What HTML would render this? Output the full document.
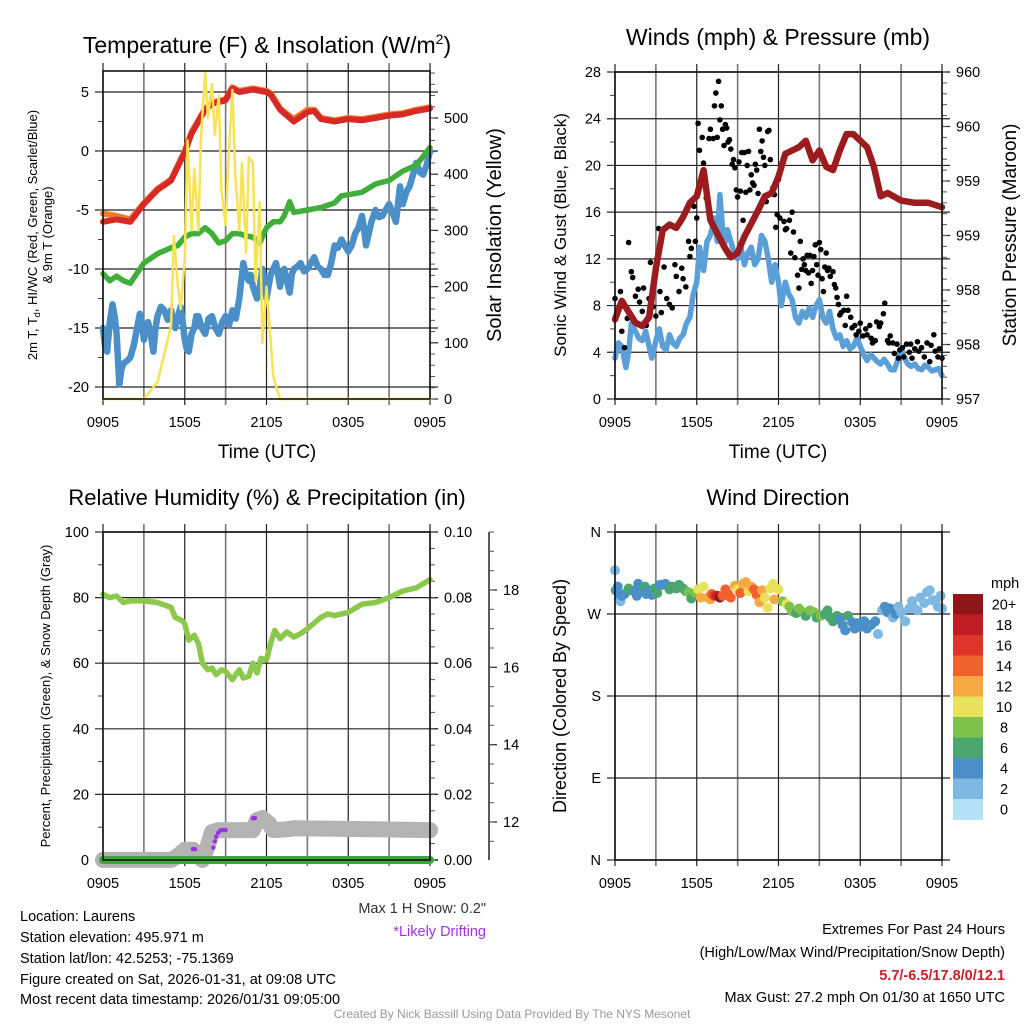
<!DOCTYPE html>
<html><head><meta charset="utf-8"><style>
body{margin:0;background:#fff;width:1024px;height:1024px;overflow:hidden;font-family:"Liberation Sans",sans-serif}
svg text{font-family:"Liberation Sans",sans-serif}
</style></head><body>
<svg id="s" width="1024" height="1024" xmlns="http://www.w3.org/2000/svg">
<rect width="1024" height="1024" fill="#fff"/>
<text x="267" y="53" font-size="23" text-anchor="middle">Temperature (F) &amp; Insolation (W/m<tspan font-size="14" dy="-9">2</tspan><tspan dy="9">)</tspan></text>
<text x="778" y="45" font-size="23" text-anchor="middle">Winds (mph) &amp; Pressure (mb)</text>
<text x="267" y="505" font-size="22" text-anchor="middle">Relative Humidity (%) &amp; Precipitation (in)</text>
<text x="778" y="505" font-size="22" text-anchor="middle">Wind Direction</text>
<text x="267" y="458" font-size="19" text-anchor="middle">Time (UTC)</text>
<text x="778" y="458" font-size="19" text-anchor="middle">Time (UTC)</text>
<text transform="translate(37,235) rotate(-90)" font-size="13" text-anchor="middle">2m T, T<tspan font-size="9" dy="3">d</tspan><tspan dy="-3">, HI/WC (Red, Green, Scarlet/Blue)</tspan></text>
<text transform="translate(52,235) rotate(-90)" font-size="13" text-anchor="middle">&amp; 9m T (Orange)</text>
<text transform="translate(501,235) rotate(-90)" font-size="20" text-anchor="middle">Solar Insolation (Yellow)</text>
<text transform="translate(566,235) rotate(-90)" font-size="17" text-anchor="middle">Sonic Wind &amp; Gust (Blue, Black)</text>
<text transform="translate(1016,235) rotate(-90)" font-size="19" text-anchor="middle">Station Pressure (Maroon)</text>
<text transform="translate(50,696) rotate(-90)" font-size="13" text-anchor="middle">Percent, Precipitation (Green), &amp; Snow Depth (Gray)</text>
<text transform="translate(566,696) rotate(-90)" font-size="18" text-anchor="middle">Direction (Colored By Speed)</text>
<g font-size="14.5">
<text x="20" y="921">Location: Laurens</text>
<text x="20" y="942">Station elevation: 495.971 m</text>
<text x="20" y="963">Station lat/lon: 42.5253; -75.1369</text>
<text x="20" y="984">Figure created on Sat, 2026-01-31, at 09:08 UTC</text>
<text x="20" y="1004">Most recent data timestamp: 2026/01/31 09:05:00</text>
<text x="486" y="913" text-anchor="end" fill="#333">Max 1 H Snow: 0.2"</text>
<text x="486" y="936" text-anchor="end" fill="#a030e8">*Likely Drifting</text>
<text x="1005" y="934" text-anchor="end">Extremes For Past 24 Hours</text>
<text x="1005" y="957" text-anchor="end">(High/Low/Max Wind/Precipitation/Snow Depth)</text>
<text x="1005" y="980" text-anchor="end" fill="#c8202a" font-weight="bold">5.7/-6.5/17.8/0/12.1</text>
<text x="1005" y="1002" text-anchor="end">Max Gust: 27.2 mph On 01/30 at 1650 UTC</text>
</g>
<text x="512" y="1018" font-size="12" text-anchor="middle" fill="#999">Created By Nick Bassill Using Data Provided By The NYS Mesonet</text>
<g id="plots"></g>
</svg>
<script>
// ---- data ----
const xTickLabels = ["0905","1505","2105","0305","0905"];
const redH = [0,1,2,3,4,5,6,6.5,7,7.5,8,9,9.5,10,11,12,12.3,13,14,15,15.5,16,17,18,19,20,21,22,23,24];
const redV = [-6,-5.8,-6,-4.5,-3.3,-2.5,-0.1,1.5,2.5,3.5,4,4.3,5.3,5,5.2,5,4.8,3.5,2.5,3.3,3.4,2.7,2.5,2.7,2.6,2.8,3,3.1,3.4,3.6];
const orangeV = [-5.3,-5.5,-5.8,-4.4,-3.2,-2.4,0,1.6,2.6,3.6,4.1,4.4,5.4,5.1,5.3,5.1,4.9,3.6,2.7,3.5,3.5,2.8,2.6,2.8,2.7,2.9,3.1,3.2,3.5,3.7];
const greenH = [0,0.5,1,1.5,2,3,4,5,5.5,6,6.5,7,7.5,8,8.5,9,9.5,10,10.5,11,11.5,12,12.5,13,13.3,13.7,14,15,16,17,17.5,18,19,20,21,22,23,24];
const greenV = [-10.4,-11,-10.6,-11,-11.2,-9.5,-8.7,-8.2,-8,-7.3,-7,-7,-6.5,-7,-7.8,-7.6,-7,-7,-7.2,-7.3,-7.8,-6.5,-6,-6,-5.5,-4.3,-5.2,-5,-4.8,-4.4,-3.8,-3.7,-3.5,-2.8,-2.5,-1.7,-1.2,0.3];
const blueH = [0,0.15,0.3,0.5,0.7,0.85,1,1.2,1.35,1.5,1.75,2,2.25,2.5,2.7,2.85,3,3.15,3.3,3.5,3.7,3.85,4,4.25,4.5,4.75,5,5.15,5.3,5.5,5.7,5.85,6,6.15,6.3,6.5,6.7,6.85,7,7.25,7.5,7.75,8,8.25,8.5,8.75,9,9.25,9.5,9.75,10,10.15,10.3,10.5,10.7,10.85,11,11.15,11.3,11.5,11.7,11.85,12,12.15,12.3,12.5,12.7,12.85,13,13.15,13.3,13.5,13.7,13.85,14,14.25,14.5,14.75,15,15.25,15.5,15.75,16,16.25,16.5,16.75,17,17.25,17.5,17.75,18,18.25,18.5,18.75,19,19.15,19.3,19.5,19.7,19.85,20,20.25,20.5,20.75,21,21.25,21.5,21.65,21.8,22,22.25,22.5,22.75,23,23.25,23.5,23.75,24];
const blueV = [-15,-16.5,-17,-14.5,-13,-14,-15.5,-19.8,-18.5,-18,-17.8,-17.5,-16.5,-15,-13.8,-14.5,-16,-15,-14.5,-15.5,-17,-15,-14,-13.2,-13.5,-14.3,-13.5,-14.5,-15,-14,-13.2,-14.5,-16,-16.8,-17,-15.5,-15,-14,-14,-15,-15.5,-14.2,-14,-15,-15.5,-14.5,-14,-14.8,-13.5,-14.2,-12.5,-11,-9.5,-10.5,-11,-10.5,-11.5,-12,-12.5,-11.5,-10,-11,-12.5,-11.5,-10.5,-10,-9.5,-10.5,-11.5,-10.5,-10,-11,-12,-10.5,-10,-9.8,-9.5,-10.2,-10,-9.5,-9,-9.8,-10,-10.5,-10.5,-9.5,-8,-8.2,-7.5,-8,-8.5,-8,-7,-6.5,-5.5,-6.5,-8,-7,-6,-5.5,-5,-5.6,-5.5,-5,-4.5,-5.2,-6,-4.5,-3,-4.5,-3.5,-3,-2,-1,-1.8,-2,-1.2,0];
const solarH = [0,3,4,5,5.2,5.5,5.7,6,6.2,6.5,6.7,7,7.2,7.5,7.7,8,8.2,8.5,8.7,9,9.2,9.5,9.7,10,10.2,10.5,10.7,11,11.2,11.5,11.7,12,12.5,13,24];
const solarV = [0,0,30,130,290,200,160,250,460,300,410,300,470,580,500,560,470,540,370,310,420,550,400,300,420,260,430,420,210,350,100,200,40,0,0];
const tempTicks = [-20,-15,-10,-5,0,5];
const solarTicks = [0,100,200,300,400,500];

const windH = [0,0.25,0.5,0.8,1,1.2,1.5,1.75,2,2.25,2.5,2.7,3,3.25,3.5,3.75,4,4.25,4.5,4.75,5,5.25,5.5,5.75,6,6.2,6.5,6.75,7,7.3,7.5,7.7,8,8.25,8.5,8.75,9,9.25,9.5,9.75,10,10.25,10.5,10.75,11,11.25,11.5,11.75,12,12.2,12.5,12.75,13,13.25,13.5,13.75,14,14.25,14.5,14.75,15,15.25,15.5,15.75,16,16.25,16.5,16.75,17,17.25,17.5,17.75,18,18.25,18.5,18.75,19,19.25,19.5,19.75,20,20.25,20.5,20.75,21,21.25,21.5,21.75,22,22.25,22.5,22.75,23,23.25,23.5,23.75,24];
const windV = [3.5,4.8,4.5,2.7,4,6.5,5.8,5.2,5,5.8,4.5,3.5,5,6,4.5,4.2,5.5,4.8,4.5,5.2,5.5,6.5,7,9,10,13,11,13.5,14,15.5,13.5,17.5,13,14.5,13.5,12.5,12,13,11.5,12.5,13,11.5,12,14,13.5,12,10,11.5,10,8,10,9,8.5,7,6.5,7.5,7,7.8,7,8,8.5,7,6.5,7.5,6,5.2,5.5,4.5,5,4.3,4.5,5.2,4.5,3.8,3.3,3.8,3.5,3.2,3,3.4,3,2.5,2.5,3.3,4.3,3.5,3,2.8,3,2.6,2.5,2.9,2.7,2.4,2.5,2.6,2];
const presH = [0,0.5,1,1.5,2,2.5,3,3.5,4,4.5,5,5.5,6,6.5,7,7.5,8,8.5,9,9.5,10,10.5,11,11.5,12,12.5,13,13.5,14,14.5,15,15.5,16,16.5,17,17.5,18,18.5,19,19.5,20,21,22,23,24];
const presV = [957.73,957.9,957.8,957.7,957.67,957.75,958.2,958.55,958.6,958.57,958.67,958.8,958.86,959.1,958.64,958.52,958.4,958.3,958.34,958.49,958.61,958.73,958.86,958.89,959.04,959.25,959.28,959.31,959.37,959.19,959.28,959.13,959.1,959.28,959.43,959.43,959.37,959.31,959.13,958.86,958.89,958.82,958.8,958.8,958.76];
const gustH = [0,0.2,0.4,0.5,0.7,0.9,1,1.2,1.3,1.5,1.7,1.8,2,2.1,2.3,2.5,2.6,2.8,3,3.1,3.2,3.3,3.4,3.6,3.8,4,4.2,4.4,4.5,4.7,4.9,5,5.2,5.4,5.5,5.6,5.8,5.9,6,6.1,6.2,6.4,6.5,6.6,6.7,6.9,7,7.2,7.3,7.4,7.5,7.6,7.7,7.8,7.9,8,8.1,8.2,8.3,8.4,8.5,8.6,8.7,8.8,8.9,9,9.1,9.2,9.3,9.4,9.5,9.6,9.7,9.8,9.9,10,10.1,10.2,10.3,10.4,10.5,10.6,10.7,10.8,10.9,11,11.1,11.2,11.3,11.4,11.6,11.7,11.8,11.9,12,12.1,12.3,12.4,12.5,12.6,12.8,12.9,13,13.1,13.2,13.4,13.5,13.6,13.7,13.8,13.9,14,14.1,14.2,14.3,14.4,14.5,14.6,14.7,14.8,14.9,15,15.1,15.2,15.3,15.4,15.5,15.6,15.7,15.8,16,16.1,16.2,16.3,16.4,16.5,16.6,16.8,16.9,17,17.1,17.3,17.4,17.6,17.7,17.9,18,18.2,18.4,18.5,18.7,18.8,18.9,19.1,19.2,19.4,19.5,19.7,19.8,20,20.1,20.2,20.4,20.5,20.7,20.8,20.9,21.1,21.2,21.4,21.6,21.7,21.8,22,22.2,22.3,22.5,22.7,22.9,23.1,23.2,23.4,23.5,23.7,23.8,24];
const gustV = [8.6,7.5,9.2,5.8,4.4,6.9,13.4,10.9,10.4,8.8,9.4,8.3,7.5,9.5,6.3,8.6,11.7,7.9,7.1,11.7,14.6,9.2,7.4,11.3,8.6,8.1,7.8,11.5,10.5,9.2,11.2,10.3,9.6,13.5,12.2,12.9,16.5,13.5,15.5,23.6,21.3,22.4,20.2,18.6,17.2,22.3,23.1,22.3,25.1,26.2,22.4,27.2,23.9,25.1,23.1,21.7,23.5,23.2,22,22.2,21.4,20.1,20.5,19.8,17.9,17.3,20.3,17.8,21.1,15.3,21.1,17.7,20,21.2,17.9,19.2,18.5,18.3,20.1,19.6,17.6,23.1,21.2,22.1,20.7,20,16.9,22.9,23,20.5,18.1,17.5,14.7,15.8,18.8,15.5,20.2,15.2,14.5,14.6,15.3,12.5,16,14.3,12.1,10.6,9.5,13.5,11.1,12,11.5,11,12.3,10.8,12.3,9.9,11,12.2,13.2,11.5,10.6,13.4,12.8,10.3,9.2,11.3,12.5,11,11.2,10.5,10.9,9.8,9.5,8.7,8.1,7.2,7.4,7.6,6.3,8.8,7.6,7,6.1,6.3,5.5,5.8,6.5,5.4,6,5.5,6.3,5.2,4.8,5,6.6,6.2,6.5,7.3,8.2,5,4.8,5.4,4.8,3.9,4.7,3.5,4.2,4.4,3.6,4.7,4,4.7,3.5,4.3,4.9,4.1,4.4,3.6,4.8,3.2,4.6,5.5,4.1,3.6,4.3,3.5];
const windTicks = [0,4,8,12,16,20,24,28];
const presTicks = [957,957.5,958,958.5,959,959.5,960];
const presTickLabels = ["957","958","958","959","959","960","960"];

const rhH = [0,0.5,1,1.5,2,3,4,5,5.3,5.8,6,6.3,6.7,7,7.3,7.7,8,8.3,8.7,9,9.5,10,10.3,10.7,11,11.3,11.6,12,12.3,12.6,13,13.5,14,14.5,15,16,16.5,17,18,19,20,21,22,23,24];
const rhV = [81,80,80.5,78.5,79,79,78.5,77,74,73,72,67,68.5,66,60,58,58.5,56.5,58,57.5,55,58,55.5,56,60,57,61.5,61,66,70,67.5,69.5,68,69,70.5,74,75,74.5,75.5,78,78.5,80,82,83,85.5];
const precipH = [0,24];
const precipV = [0,0];
const snowH = [0,5,5.5,6.0,6.6,6.8,7.3,7.7,8.0,8.5,11,11.3,11.7,12.2,12.5,13.5,14,24];
const snowV = [11.02,11.02,11.12,11.28,11.28,11.2,11.02,11.4,11.74,11.79,11.79,12.05,12.1,11.95,11.79,11.81,11.84,11.79];
const driftH = [6.6,6.75,8.1,8.2,8.3,8.45,8.6,8.8,9.0,11.0,11.15];
const driftV = [11.3,11.3,11.34,11.5,11.62,11.72,11.78,11.79,11.79,12.1,12.1];
const rhTicks = [0,20,40,60,80,100];
const precTicks = [0,0.02,0.04,0.06,0.08,0.1];
const precTickLabels = ["0.00","0.02","0.04","0.06","0.08","0.10"];
const snowTicks = [12,14,16,18];

const dirH = [0,0.05,0.2,0.3,0.4,0.5,0.7,1,1.2,1.5,1.6,1.7,2,2.2,2.3,2.5,2.7,2.9,3.1,3.3,3.5,3.7,4,4.2,4.5,4.7,5,5.2,5.4,5.6,5.9,6.1,6.3,6.5,6.8,7,7.1,7.3,7.5,7.7,7.9,8.1,8.3,8.5,8.8,9,9.2,9.4,9.6,9.8,10,10.2,10.4,10.6,10.8,11,11.2,11.4,11.6,11.7,12,12.3,12.6,12.8,13,13.3,13.5,13.8,14,14.3,14.6,14.8,15.1,15.4,15.6,15.8,16,16.3,16.5,16.7,16.9,17.1,17.4,17.6,17.8,18,18.3,18.5,18.8,19.1,19.3,19.6,19.8,20,20.2,20.4,20.6,20.8,21,21.3,21.6,21.8,22,22.2,22.4,22.7,22.9,23.1,23.3,23.5,23.7,23.9,24];
const dirV = [318,296,300,288,284,290,292,298,296,295,290,303,297,300,292,296,291,298,293,302,302,303,297,300,298,302,298,295,294,287,293,297,288,300,288,286,292,290,290,288,290,297,292,288,301,297,293,303,305,295,300,297,291,283,296,288,277,298,303,286,297,284,281,278,273,271,276,272,268,274,272,266,268,270,274,266,262,268,264,258,252,268,261,254,260,256,262,254,258,262,248,274,278,272,276,266,270,278,272,262,276,284,276,274,288,282,294,296,285,285,278,290,276];
const dirSpd = [3,4,4,4,3,4,4,6,6,4,4,4,4,6,4,4,4,6,6,4,4,4,6,6,6,6,6,6,8,6,8,10,12,10,12,12,14,16,18,20,14,14,14,14,12,10,14,12,12,10,12,14,14,12,12,10,10,10,10,12,10,8,10,8,8,6,8,8,6,8,8,6,8,6,6,6,6,6,4,4,4,6,4,4,4,4,4,4,4,4,2,2,4,4,4,2,4,2,2,2,2,2,2,2,2,2,2,2,2,2,2,2,2];
const dirTicks = [0,90,180,270,360];
const dirTickLabels = ["N","E","S","W","N"];
const cbLabels = ["0","2","4","6","8","10","12","14","16","18","20+"];
const cbColors = ["#b3e1f7","#7fb9e3","#4a8fc7","#4aa56e","#7dc24a","#e8e15a","#f6a843","#f0622c","#df3528","#c01e25","#8f1719"];

// ---- drawing ----
const NS="http://www.w3.org/2000/svg";
const root=document.getElementById('plots');
function mk(tag,attrs,parent){const e=document.createElementNS(NS,tag);for(const k in attrs)e.setAttribute(k,attrs[k]);(parent||root).appendChild(e);return e;}
function lin(d0,d1,r0,r1){return v=>r0+(v-d0)*(r1-r0)/(d1-d0);}
function panel(P,name){
  const g=mk('g',{});
  
  
  P.g=g;P.x=lin(0,24,P.x0,P.x1);return P;
}
function grid(P,ticks,ys,labels,minorStep,dmin,dmax){
  for(let i=0;i<=8;i++){const x=P.x(i*3);
    const l=mk('line',{x1:x,x2:x,y1:P.y0-8,y2:P.y1+6,stroke:i%2?'#777':'#222','stroke-width':i%2?1.6:1.2},P.g);
    
    }
  xTickLabels.forEach((t,i)=>{const e=mk('text',{x:P.x(i*6),y:P.y1+28,'font-size':14.5,'text-anchor':'middle'},P.g);e.textContent=t;
    
    });
  ticks.forEach((v,i)=>{const y=ys(v);
    const l=mk('line',{x1:P.x0-8,x2:P.x1+8,y1:y,y2:y,stroke:'#222','stroke-width':1.2},P.g);
    
    
    const e=mk('text',{x:P.x0-14,y:y+5,'font-size':14.5,'text-anchor':'end'},P.g);e.textContent=labels?labels[i]:String(v);
    
    });
  for(let v=dmin;v<=dmax+1e-9;v+=minorStep){mk('line',{x1:P.x0-5,x2:P.x0,y1:ys(v),y2:ys(v),stroke:'#444'},P.g);}
}
function rightAxis(P,ticks,ys,labels,minorStep,dmin,dmax,ax){
  ax=ax||P.x1;
  ticks.forEach((v,i)=>{const y=ys(v);mk('line',{x1:ax,x2:ax+8,y1:y,y2:y,stroke:'#222','stroke-width':1.2},P.g);
    const e=mk('text',{x:ax+14,y:y+5,'font-size':14.5},P.g);e.textContent=labels?labels[i]:String(v);
    
    });
  for(let v=dmin;v<=dmax+1e-9;v+=minorStep){mk('line',{x1:ax,x2:ax+5,y1:ys(v),y2:ys(v),stroke:'#555'},P.g);}
}
function frame(P){mk('rect',{x:P.x0,y:P.y0,width:P.x1-P.x0,height:P.y1-P.y0,fill:'none',stroke:'#111','stroke-width':1.6},P.g);}
function path(P,H,V,ys,color,w,name){
  const d=H.map((h,i)=>(i?'L':'M')+P.x(h).toFixed(1)+','+ys(V[i]).toFixed(1)).join('');
  const p=mk('path',{d:d,fill:'none',stroke:color,'stroke-width':w,'stroke-linejoin':'round','stroke-linecap':'round'},P.g);
  
  
  return p;
}
function dots(P,H,V,ys,colorFn,r,name){
  H.forEach((h,i)=>{const c=mk('circle',{cx:P.x(h),cy:ys(V[i]),r:r,fill:colorFn(i)},P.g);
    
    });
}

// Panel 1: temperature
const P1=panel({x0:103,x1:430,y0:71,y1:399},'temperature-panel');
const t1=lin(0,5,151,92), s1=lin(0,500,399,118);
grid(P1,tempTicks,t1,null,2.5,-20,5);
rightAxis(P1,solarTicks,s1,null,20,0,580);
path(P1,blueH,blueV,t1,'#4a8fc7',6.5,'dewpoint-line');
path(P1,greenH,greenV,t1,'#3fae3a',5.5,'green-temp-line');
path(P1,redH,orangeV,t1,'#f07a2a',6,'9m-temp-line');
path(P1,redH,redV,t1,'#d62a26',6,'2m-temp-line');
path(P1,solarH,solarV,s1,'#f9e253',2.5,'solar-line');
frame(P1);

// Panel 2: winds
const P2=panel({x0:615,x1:942,y0:72,y1:399},'wind-panel');
const w2=lin(0,28,399,72), p2=lin(957,960,399,72);
grid(P2,windTicks,w2,null,2,0,28);
rightAxis(P2,presTicks,p2,presTickLabels,0.1,957,960);
path(P2,windH,windV,w2,'#5a9fd8',5.5,'wind-speed-line');
dots(P2,gustH,gustV,w2,()=>'#000',2.8,'gust-dot');
path(P2,presH,presV,p2,'#9b1b1e',6.5,'pressure-line');
frame(P2);

// Panel 3: RH
const P3=panel({x0:103,x1:430,y0:532,y1:860},'humidity-panel');
const r3=lin(0,100,860,532), q3=lin(0,0.1,860,532), sn3=lin(12,18,822,590);
grid(P3,rhTicks,r3,null,10,0,100);
rightAxis(P3,precTicks,q3,precTickLabels,0.005,0,0.1);
mk('line',{x1:489,x2:489,y1:532,y2:860,stroke:'#222','stroke-width':1.5},P3.g);
rightAxis(P3,snowTicks,sn3,null,0.5,11.5,19.5,489);
path(P3,rhH,rhV,r3,'#8cc84b',5.5,'rh-line');
path(P3,snowH,snowV,sn3,'#b3b3b3',16,'snow-depth-line');
path(P3,precipH,precipV,q3,'#3aa63a',8,'precip-line');
dots(P3,driftH,driftV,sn3,()=>'#9b30e0',2.2,'drift-dot');
frame(P3);

// Panel 4: direction
const P4=panel({x0:615,x1:942,y0:532,y1:860},'direction-panel');
const d4=lin(0,360,860,532);
grid(P4,dirTicks,d4,dirTickLabels,90,0,360);
dots(P4,dirH,dirV,d4,i=>cbColors[Math.min(10,Math.floor(dirSpd[i]/2))],5,'direction-dot');
frame(P4);
// colorbar
const cbTop=594,cbH=20.5;
const mph=mk('text',{x:991,y:588,'font-size':14.5});mph.textContent='mph';


cbColors.forEach((c,i)=>{const k=10-i;const y=cbTop+i*cbH;
  const r=mk('rect',{x:953,y:y,width:30,height:cbH+0.5,fill:cbColors[k]});
  
  
  const t=mk('text',{x:1004,y:y+cbH/2+5,'font-size':14.5,'text-anchor':'middle'});t.textContent=cbLabels[k];
  
  });
</script>
</body></html>
